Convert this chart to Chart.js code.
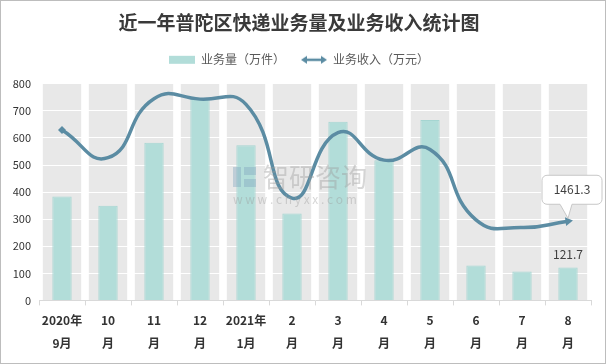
<!DOCTYPE html>
<html>
<head>
<meta charset="utf-8">
<script src="https://cdn.jsdelivr.net/npm/chart.js@4.4.0/dist/chart.umd.min.js"></script>
<style>
  body { margin: 0; background: #fff; }
  #wrap { width: 606px; height: 364px; box-sizing: border-box; border: 1px solid #bdbdbd; }
</style>
</head>
<body>
<div id="wrap"><canvas id="chart" width="604" height="362"></canvas></div>
<script>
const categories = [['2020年', '9月'], ['10', '月'], ['11', '月'], ['12', '月'], ['2021年', '1月'], ['2', '月'],
    ['3', '月'], ['4', '月'], ['5', '月'], ['6', '月'], ['7', '月'], ['8', '月']];
const volume = [384, 350, 582, 746, 573, 321, 660, 518, 666, 129, 107, 121.7];     // 业务量（万件）
const revenue = [3147, 2635, 3725, 3717, 3620, 1890, 3098, 2590, 2788, 1487, 1345, 1461.3]; // 业务收入（万元）
const yTicks = [0, 100, 200, 300, 400, 500, 600, 700, 800];

const barColor = '#b2ddd9';
const lineColor = '#5b8ca3';
const font = "'Noto Sans CJK SC', 'Noto Sans', sans-serif";

// legend icons
function makeIcon(kind) {
    let c = document.createElement('canvas');
    c.width = 26; c.height = 10;
    let g = c.getContext('2d');
    if (kind === 'bar') {
        g.fillStyle = barColor;
        g.fillRect(0, 1, 26, 8);
    } else {
        g.fillStyle = lineColor;
        g.strokeStyle = lineColor;
        g.lineWidth = 2.5;
        g.beginPath(); g.moveTo(4, 5); g.lineTo(22, 5); g.stroke();
        g.beginPath(); g.moveTo(0, 5); g.lineTo(6, 1); g.lineTo(6, 9); g.closePath(); g.fill();
        g.beginPath(); g.moveTo(26, 5); g.lineTo(20, 1); g.lineTo(20, 9); g.closePath(); g.fill();
    }
    return c;
}
const barIcon = makeIcon('bar');
const lineIcon = makeIcon('line');

const bandsPlugin = {
    id: 'bands',
    afterInit(chart) {
        // extra gap below the legend
        const legend = chart.legend;
        const fit = legend.fit;
        legend.fit = function () {
            fit.call(this);
            this.height += 8;
        };
    },
    beforeDraw(chart) {
        const { ctx, chartArea, scales } = chart;
        const x = scales.x;
        const step = x.getPixelForValue(1) - x.getPixelForValue(0);
        ctx.save();
        ctx.fillStyle = '#e8e8e8';
        for (let i = 0; i < categories.length; i++) {
            let cx = x.getPixelForValue(i);
            let w = step * 0.835;
            ctx.fillRect(cx - w / 2, chartArea.top, w, chartArea.bottom - chartArea.top);
        }
        ctx.restore();
    }
};

const labelsPlugin = {
    id: 'labels',
    afterDatasetsDraw(chart) {
        const ctx = chart.ctx;
        const last = categories.length - 1;
        const bar = chart.getDatasetMeta(1).data[last];
        const pt = chart.getDatasetMeta(0).data[last];
        ctx.save();
        ctx.font = '12px ' + font;
        ctx.fillStyle = '#404040';
        ctx.textAlign = 'center';
        ctx.textBaseline = 'middle';
        ctx.fillText(String(volume[last]), bar.x, bar.y - 13);

        // callout for the line value
        let px = pt.x, py = pt.y;
        let l = px - 26, r = px + 34, t = py - 46, b = py - 17, rad = 5;
        ctx.beginPath();
        ctx.moveTo(l + rad, t);
        ctx.lineTo(r - rad, t);
        ctx.arcTo(r, t, r, t + rad, rad);
        ctx.lineTo(r, b - rad);
        ctx.arcTo(r, b, r - rad, b, rad);
        ctx.lineTo(px + 4, b);
        ctx.lineTo(px, py - 3);
        ctx.lineTo(px - 8, b);
        ctx.lineTo(l + rad, b);
        ctx.arcTo(l, b, l, b - rad, rad);
        ctx.lineTo(l, t + rad);
        ctx.arcTo(l, t, l + rad, t, rad);
        ctx.closePath();
        ctx.fillStyle = '#fff';
        ctx.fill();
        ctx.strokeStyle = '#c8c8c8';
        ctx.lineWidth = 1;
        ctx.stroke();
        ctx.fillStyle = '#404040';
        ctx.fillText(String(revenue[last]), (l + r) / 2, (t + b) / 2);
        ctx.restore();
    },
    afterDraw(chart) {
        // faint watermark
        const ctx = chart.ctx;
        ctx.save();
        ctx.globalAlpha = 0.4;
        ctx.fillStyle = '#9a9a9a';
        ctx.font = '26px ' + font;
        ctx.textBaseline = 'middle';
        ctx.fillText('智研咨询', 262, 176);
        ctx.font = '12px ' + font;
        ctx.fillText('w w w . c h y x x . c o m', 232, 198);
        ctx.fillStyle = '#7fa6bf';
        ctx.fillRect(232, 166, 8, 20);
        ctx.fillRect(243, 166, 12, 8);
        ctx.fillRect(243, 178, 12, 8);
        ctx.restore();
    }
};

new Chart(document.getElementById('chart'), {
    type: 'bar',
    data: {
        labels: categories,
        datasets: [
            {
                type: 'line',
                label: '业务收入（万元）',
                data: revenue,
                yAxisID: 'y1',
                borderColor: lineColor,
                backgroundColor: lineColor,
                borderWidth: 3.5,
                tension: 0.5,
                pointStyle: revenue.map((v, i) => i === 0 ? 'rectRot' : 'triangle'),
                pointRadius: revenue.map((v, i) => i === 0 ? 4 : (i === revenue.length - 1 ? 5 : 0)),
                pointRotation: revenue.map((v, i) => i === revenue.length - 1 ? 82 : 0),
                pointBorderWidth: 0,
                pointHoverRadius: 0,
                order: 0
            },
            {
                type: 'bar',
                label: '业务量（万件）',
                data: volume,
                yAxisID: 'y',
                backgroundColor: barColor,
                borderColor: '#a5d5d1',
                borderWidth: 1,
                barPercentage: 0.42,
                categoryPercentage: 1,
                order: 1
            }
        ]
    },
    options: {
        responsive: false,
        animation: false,
        layout: { padding: { left: 6, right: 14, top: 6, bottom: 4 } },
        plugins: {
            title: {
                display: true,
                text: '近一年普陀区快递业务量及业务收入统计图',
                color: '#3a3a3a',
                font: { family: font, size: 19, weight: 'bold' },
                padding: { top: 4, bottom: 4 }
            },
            legend: {
                reverse: true,
                labels: {
                    usePointStyle: true,
                    pointStyleWidth: 26,
                    boxHeight: 10,
                    color: '#595959',
                    font: { family: font, size: 12 },
                    padding: 16,
                    generateLabels(chart) {
                        return chart.data.datasets.map((ds, i) => ({
                            text: ds.label,
                            pointStyle: ds.type === 'bar' ? barIcon : lineIcon,
                            fontColor: '#595959',
                            lineWidth: 0,
                            datasetIndex: i,
                            hidden: false
                        }));
                    }
                }
            },
            tooltip: { enabled: false }
        },
        scales: {
            x: {
                offset: true,
                grid: { display: true, drawOnChartArea: false, color: '#d9d9d9', tickLength: 5, offset: true },
                border: { color: '#d9d9d9' },
                ticks: {
                    color: '#333',
                    font: { family: font, size: 12, weight: 'bold', lineHeight: 1.9 },
                    padding: 4,
                    maxRotation: 0,
                    autoSkip: false
                }
            },
            y: {
                min: 0,
                max: 800,
                afterBuildTicks(axis) { axis.ticks = yTicks.map(v => ({ value: v })); },
                grid: { color: '#ffffff', lineWidth: 1, drawTicks: false },
                border: { display: false },
                ticks: { color: '#333', font: { family: font, size: 11 }, padding: 8 },
                afterFit(axis) { axis.width = 32; }
            },
            y1: {
                min: 0,
                max: 4000,
                display: false
            }
        }
    },
    plugins: [bandsPlugin, labelsPlugin]
});
</script>
</body>
</html>
